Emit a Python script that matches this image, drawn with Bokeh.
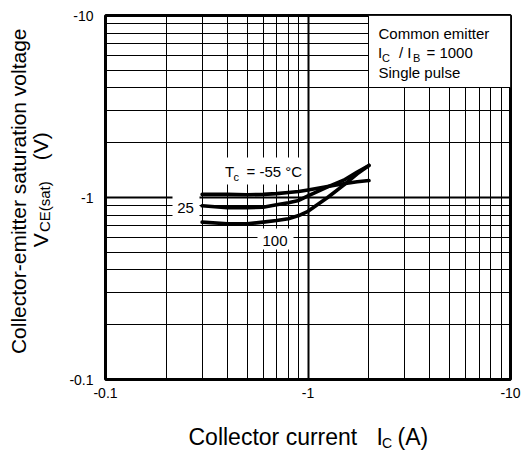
import math
from bokeh.plotting import figure
from bokeh.layouts import row, column
from bokeh.models import FixedTicker, CustomJSTickFormatter, Label, Range1d
from bokeh.embed import file_html
from bokeh.resources import INLINE
from bokeh.core.properties import value

# ---- data ----
ic_amp = [0.3, 0.4, 0.5, 0.6, 0.7, 0.8, 0.9, 1.0, 1.25, 1.5, 1.75, 2.0]
vce_m55 = [1.04, 1.04, 1.035, 1.04, 1.05, 1.065, 1.08, 1.10, 1.15, 1.19, 1.22, 1.24]
vce_25 = [0.90, 0.878, 0.878, 0.885, 0.912, 0.935, 0.963, 1.02, 1.145, 1.245, 1.38, 1.50]
vce_100 = [0.732, 0.717, 0.717, 0.732, 0.747, 0.765, 0.796, 0.84, 1.0, 1.17, 1.35, 1.50]

x_ticks = [0.1, 1, 10]
y_ticks = [0.1, 1, 10]
minor_ticks = [0.2, 0.3, 0.4, 0.5, 0.6, 0.7, 0.8, 0.9, 2, 3, 4, 5, 6, 7, 8, 9]

FONT = "Liberation Sans"

# ---- layout (pixel coordinates of the picture) ----
TOTAL_W, TOTAL_H = 523, 450
YT_W = 55            # width of the y-title strip
MAIN_H = 410         # height of the main figure row
FL, FR, FT, FB = 105, 510, 15, 379


def xd(px):
    return 10 ** (-1 + 2 * (px - FL) / (FR - FL))


def yd(py):
    return 10 ** (1 - 2 * (py - FT) / (FB - FT))


MAIN_W = TOTAL_W - YT_W
p = figure(width=MAIN_W, height=MAIN_H, x_axis_type="log", y_axis_type="log",
           x_range=Range1d(0.1, 10), y_range=Range1d(0.1, 10),
           output_backend="svg", toolbar_location=None, title=None,
           min_border_left=FL - YT_W, min_border_right=TOTAL_W - FR,
           min_border_top=FT, min_border_bottom=MAIN_H - FB)

p.background_fill_color = "white"
p.border_fill_color = "white"
p.outline_line_color = "black"
p.outline_line_width = 3

fmt = CustomJSTickFormatter(code="return '-' + tick;")
p.xaxis.ticker = FixedTicker(ticks=x_ticks, minor_ticks=minor_ticks)
p.yaxis.ticker = FixedTicker(ticks=y_ticks, minor_ticks=minor_ticks)
for ax in (p.xaxis, p.yaxis):
    ax.formatter = fmt
    ax.axis_line_color = None
    ax.major_tick_out = 0
    ax.major_tick_in = 0
    ax.minor_tick_out = 0
    ax.minor_tick_in = 0
    ax.major_label_text_font = FONT
    ax.major_label_text_font_size = "14px"
    ax.major_label_text_color = "black"
p.xaxis.major_label_standoff = 8
p.yaxis.major_label_standoff = 12

p.grid.grid_line_color = "black"
p.grid.grid_line_width = 2
p.grid.grid_line_alpha = 1
p.grid.minor_grid_line_color = "black"
p.grid.minor_grid_line_width = 1
p.grid.minor_grid_line_alpha = 1

# white backgrounds behind the curve labels
p.quad(left=[xd(220), xd(172), xd(257)], right=[xd(302), xd(199), xd(293)],
       top=[yd(157), yd(195), yd(228)], bottom=[yd(184), yd(220), yd(249)],
       fill_color="white", line_color=None)

# condition box (upper right)
p.quad(left=[xd(368)], right=[xd(FR)], top=[yd(FT)], bottom=[yd(87)],
       fill_color="white", line_color="black", line_width=1)

# curves
for v in (vce_m55, vce_25, vce_100):
    p.line(ic_amp, v, line_width=3.6, line_color="black", line_join="round", line_cap="round")


def label(px, py, text, size, align="left", baseline="middle"):
    p.add_layout(Label(x=xd(px), y=yd(py), text=text, text_font=FONT,
                       text_font_size=f"{size}px", text_color="black",
                       text_align=align, text_baseline=baseline))


# condition box text
label(378, 33, "Common emitter", 15)
label(377.5, 52, "I", 15)
label(381.5, 57.5, "C", 11)
label(398.5, 52, "/ I", 15)
label(412.5, 57.5, "B", 11)
label(426, 52, "= 1000", 15)
label(378, 71.5, "Single pulse", 15)

# curve labels
label(224.5, 170.5, "T", 15)
label(233, 176.5, "c", 11)
label(246, 170.5, "= -55 °C", 15)
label(185, 207, "25", 15, align="center")
label(274.5, 240, "100", 15, align="center")


def text_strip(w, h):
    f = figure(width=w, height=h, x_range=Range1d(0, w), y_range=Range1d(0, h),
               output_backend="svg", toolbar_location=None, title=None,
               x_axis_location=None, y_axis_location=None,
               min_border=0, min_border_left=0, min_border_right=0,
               min_border_top=0, min_border_bottom=0)
    f.outline_line_color = None
    f.background_fill_color = "white"
    f.border_fill_color = "white"
    f.xgrid.visible = False
    f.ygrid.visible = False
    return f


# y axis title strip (left of main figure), coordinates: x = picture x, y = MAIN_H - picture y
yt = text_strip(YT_W, MAIN_H)
ang = math.pi / 2


def ytext(px, py, text, size, align="left"):
    yt.text(x=[px], y=[MAIN_H - py], text=[text], angle=ang,
            text_font=value(FONT), text_font_size=value(f"{size}px"),
            text_color="black", text_align=align, text_baseline="middle")


ytext(18, 198, "Collector-emitter saturation voltage", 21, align="center")
ytext(40, 261, "V", 21)
ytext(43.5, 244, "CE(sat)", 15)
ytext(40, 163, "(V)", 21)

# x axis title strip (below), coordinates: x = picture x, y = TOTAL_H - picture y
XT_H = TOTAL_H - MAIN_H
xt = text_strip(TOTAL_W, XT_H)


def xtext(px, py, text, size):
    xt.text(x=[px], y=[TOTAL_H - py], text=[text],
            text_font=value(FONT), text_font_size=value(f"{size}px"),
            text_color="black", text_align="left", text_baseline="middle")


xtext(188, 436, "Collector current", 23)
xtext(376, 436, "I", 23)
xtext(381.5, 442, "C", 14)
xtext(397, 436, "(A)", 23)

layout = column(row(yt, p, spacing=0), xt, spacing=0)
open("out.html", "w").write(file_html(layout, INLINE))
